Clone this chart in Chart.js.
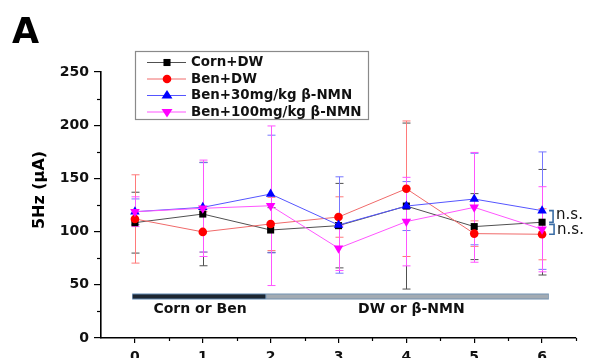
<!DOCTYPE html>
<html>
<head>
<meta charset="utf-8">
<script src="https://cdn.jsdelivr.net/npm/chart.js@4/dist/chart.umd.min.js"></script>
<style>
  html, body { margin: 0; padding: 0; background: #ffffff; }
  #wrap { width: 597px; height: 358px; position: relative; overflow: hidden; }
</style>
</head>
<body>
<div id="wrap"><canvas id="c" width="597" height="358"></canvas></div>
<script>
// ---- Data ----
const timePoints = [0, 1, 2, 3, 4, 5, 6];
const xTickLabels = ['0', '1', '2', '3', '4', '5', '6'];
const seriesNames = ['Corn+DW', 'Ben+DW', 'Ben+30mg/kg \u03B2-NMN', 'Ben+100mg/kg \u03B2-NMN'];

const cornDW     = [108.4, 116.5, 101.5, 105.6, 124.0, 104.7, 108.8];
const cornDWErr  = [28.6, 48.6, 21.0, 39.7, 78.0, 31.0, 49.6];
const benDW      = [111.9, 99.7, 107.2, 113.7, 140.3, 98.1, 97.5];
const benDWErr   = [41.5, 19.0, 25.0, 19.0, 63.7, 12.0, 24.0];
const ben30      = [118.7, 122.8, 135.3, 106.2, 124.0, 130.6, 119.7];
const ben30Err   = [12.0, 42.0, 55.3, 45.3, 23.0, 43.0, 55.2];
const ben100     = [118.7, 121.9, 124.3, 84.4, 109.4, 122.8, 102.2];
const ben100Err  = [14.0, 45.3, 75.0, 21.0, 41.6, 51.6, 40.0];

const periodStart  = [-0.04, 1.93];
const periodEnd    = [1.93, 6.1];
const periodLabels = ['Corn or Ben', 'DW or \u03B2-NMN'];
const periodLevel  = 39;
const periodLabelLevel = 26.5;

const yMin = 0, yMax = 250, yStep = 50;
const nsLabel = 'n.s.';

// ---- Styles ----
const FONT_B = 'bold 14px "DejaVu Sans", sans-serif';
const FONT_LEG = 'bold 13.4px "DejaVu Sans", sans-serif';
const styles = [
  { line: '#505050', point: '#000000', err: '#505050', shape: 'rect',     radius: 5,   rot: 0 },
  { line: '#f06a6a', point: '#ff0000', err: '#ff7a7a', shape: 'circle',   radius: 4.3, rot: 0 },
  { line: '#5555ff', point: '#0000ff', err: '#7777ff', shape: 'triangle', radius: 5.5, rot: 0 },
  { line: '#ff55ff', point: '#ff00ff', err: '#ff55ff', shape: 'triangle', radius: 5.5, rot: 180 }
];
const allMeans = [cornDW, benDW, ben30, ben100];
const allErrs  = [cornDWErr, benDWErr, ben30Err, ben100Err];

function toXY(vals) { return timePoints.map((t, i) => ({ x: t, y: vals[i] })); }

const datasets = allMeans.map((vals, i) => ({
  label: seriesNames[i],
  data: toXY(vals),
  borderColor: styles[i].line,
  borderWidth: 1,
  backgroundColor: styles[i].point,
  pointBackgroundColor: styles[i].point,
  pointBorderColor: styles[i].point,
  pointBorderWidth: 0,
  pointStyle: styles[i].shape,
  pointRadius: styles[i].radius,
  pointRotation: styles[i].rot,
  tension: 0,
  order: 4 - i
}));

function drawMarker(ctx, shape, x, y, r, rot, color) {
  ctx.save();
  ctx.fillStyle = color;
  ctx.translate(x, y);
  ctx.rotate(rot * Math.PI / 180);
  ctx.beginPath();
  if (shape === 'rect') {
    const s = r / Math.SQRT2;
    ctx.rect(-s, -s, 2 * s, 2 * s);
  } else if (shape === 'circle') {
    ctx.arc(0, 0, r, 0, Math.PI * 2);
  } else {
    ctx.moveTo(0, -r);
    ctx.lineTo(r * 0.866 * 1.15, r * 0.5 * 1.1);
    ctx.lineTo(-r * 0.866 * 1.15, r * 0.5 * 1.1);
    ctx.closePath();
  }
  ctx.fill();
  ctx.restore();
}

// Error bars (drawn under the lines and markers)
const errorBarPlugin = {
  id: 'errorBars',
  beforeDatasetsDraw(chart) {
    const ctx = chart.ctx, xs = chart.scales.x, ys = chart.scales.y;
    ctx.save();
    ctx.lineWidth = 1;
    for (let i = 0; i < allMeans.length; i++) {
      ctx.strokeStyle = styles[i].err;
      for (let j = 0; j < timePoints.length; j++) {
        const px = Math.round(xs.getPixelForValue(timePoints[j])) + 0.5;
        const top = ys.getPixelForValue(allMeans[i][j] + allErrs[i][j]);
        const bot = ys.getPixelForValue(allMeans[i][j] - allErrs[i][j]);
        ctx.beginPath();
        ctx.moveTo(px, top); ctx.lineTo(px, bot);
        ctx.moveTo(px - 4, top); ctx.lineTo(px + 4, top);
        ctx.moveTo(px - 4, bot); ctx.lineTo(px + 4, bot);
        ctx.stroke();
      }
    }
    ctx.restore();
  }
};

// Minor ticks, treatment bars, annotations, legend, panel letter, y title
const decorPlugin = {
  id: 'decor',
  afterDraw(chart) {
    const ctx = chart.ctx, xs = chart.scales.x, ys = chart.scales.y;
    const area = chart.chartArea;
    ctx.save();
    // minor ticks
    ctx.strokeStyle = '#000'; ctx.lineWidth = 1.2;
    for (let v = yMin + yStep / 2; v < yMax; v += yStep) {
      const py = Math.round(ys.getPixelForValue(v)) + 0.5;
      ctx.beginPath(); ctx.moveTo(area.left - 4, py); ctx.lineTo(area.left, py); ctx.stroke();
    }
    for (let v = 0.5; v <= 6.5; v += 1) {
      const px = Math.round(xs.getPixelForValue(v)) + 0.5;
      ctx.beginPath(); ctx.moveTo(px, area.bottom); ctx.lineTo(px, area.bottom + 3); ctx.stroke();
    }

    // treatment period bars
    const barY = ys.getPixelForValue(periodLevel);
    const fills = ['#1d2631', '#a3abb3'];
    const edges = ['#5f86b0', '#7393b3'];
    for (let k = 0; k < periodStart.length; k++) {
      const x0 = xs.getPixelForValue(periodStart[k]);
      const x1 = xs.getPixelForValue(periodEnd[k]);
      ctx.fillStyle = edges[k];
      ctx.fillRect(x0, barY - 3, x1 - x0, 6);
      ctx.fillStyle = fills[k];
      ctx.fillRect(x0 + 0.5, barY - 2, x1 - x0 - 1, 4);
      ctx.fillStyle = '#111';
      ctx.font = FONT_B;
      ctx.textAlign = 'center'; ctx.textBaseline = 'middle';
      ctx.fillText(periodLabels[k], (x0 + x1) / 2 + (k === 0 ? 1 : 4), ys.getPixelForValue(periodLabelLevel));
    }

    // n.s. brackets at the last time point
    const last = timePoints.length - 1;
    const bx = xs.getPixelForValue(timePoints[last]) + 7;
    const pairs = [[ben30[last], cornDW[last]], [cornDW[last] - 2, benDW[last]]];
    ctx.strokeStyle = '#3b6da5'; ctx.lineWidth = 1.6;
    pairs.forEach((p, k) => {
      const y0 = ys.getPixelForValue(p[0]);
      const y1 = ys.getPixelForValue(p[1]);
      const xr = bx + 4 + k * 1;
      ctx.beginPath();
      ctx.moveTo(bx, y0); ctx.lineTo(xr, y0); ctx.lineTo(xr, y1); ctx.lineTo(bx, y1);
      ctx.stroke();
      ctx.fillStyle = '#111';
      ctx.font = '15px "DejaVu Sans", sans-serif';
      ctx.textAlign = 'left'; ctx.textBaseline = 'middle';
      ctx.fillText(nsLabel, xr + 3, (y0 + y1) / 2 + (k === 0 ? -1 : 1));
    });

    // legend
    const lx = 135.5, ly = 51.5, lw = 233, lh = 68;
    ctx.fillStyle = '#fff';
    ctx.fillRect(lx, ly, lw, lh);
    ctx.strokeStyle = '#8a8a8a'; ctx.lineWidth = 1.2;
    ctx.strokeRect(lx, ly, lw, lh);
    const rowY = [62, 78.5, 95, 111.5];
    for (let i = 0; i < seriesNames.length; i++) {
      ctx.strokeStyle = styles[i].line; ctx.lineWidth = 1;
      ctx.beginPath(); ctx.moveTo(147, rowY[i] + 0.5); ctx.lineTo(186, rowY[i] + 0.5); ctx.stroke();
      drawMarker(ctx, styles[i].shape, 167, rowY[i] + 0.5, styles[i].radius, styles[i].rot, styles[i].point);
      ctx.fillStyle = '#111';
      ctx.font = FONT_LEG;
      ctx.textAlign = 'left'; ctx.textBaseline = 'middle';
      ctx.fillText(seriesNames[i], 191, rowY[i] + 1);
    }

    // panel letter
    ctx.fillStyle = '#000';
    ctx.font = 'bold 35px "DejaVu Sans", sans-serif';
    ctx.textAlign = 'left'; ctx.textBaseline = 'alphabetic';
    ctx.fillText('A', 12, 43);

    // y axis title
    ctx.translate(40, 190);
    ctx.rotate(-Math.PI / 2);
    ctx.font = 'bold 16px "DejaVu Sans", sans-serif';
    ctx.textAlign = 'center'; ctx.textBaseline = 'middle';
    ctx.fillText('5Hz (\u03BCA)', 0, 0);
    ctx.restore();
  }
};

new Chart(document.getElementById('c'), {
  type: 'line',
  data: { datasets },
  options: {
    responsive: false,
    animation: false,
    devicePixelRatio: 1,
    layout: { padding: { top: 72, right: 21, left: 0, bottom: 0 } },
    plugins: { legend: { display: false }, tooltip: { enabled: false }, title: { display: false } },
    scales: {
      x: {
        type: 'linear',
        min: -0.5, max: 6.5,
        afterBuildTicks(scale) { scale.ticks = timePoints.map(v => ({ value: v })); },
        afterFit(scale) { scale.height = 20; },
        border: { display: true, color: '#000', width: 1.6 },
        grid: { display: true, drawOnChartArea: false, drawTicks: true, tickLength: 5, color: '#000', lineWidth: 1.2 },
        ticks: {
          color: '#111', padding: 6,
          font: { family: '"DejaVu Sans", sans-serif', weight: 'bold', size: 14 },
          callback: (v) => xTickLabels[timePoints.indexOf(v)] ?? ''
        }
      },
      y: {
        min: yMin, max: yMax,
        afterFit(scale) { scale.width = 101; },
        border: { display: true, color: '#000', width: 1.6 },
        grid: { display: true, drawOnChartArea: false, drawTicks: true, tickLength: 7, color: '#000', lineWidth: 1.2 },
        ticks: {
          stepSize: yStep, color: '#111', padding: 5,
          font: { family: '"DejaVu Sans", sans-serif', weight: 'bold', size: 14 }
        }
      }
    }
  },
  plugins: [errorBarPlugin, decorPlugin]
});
</script>
</body>
</html>
